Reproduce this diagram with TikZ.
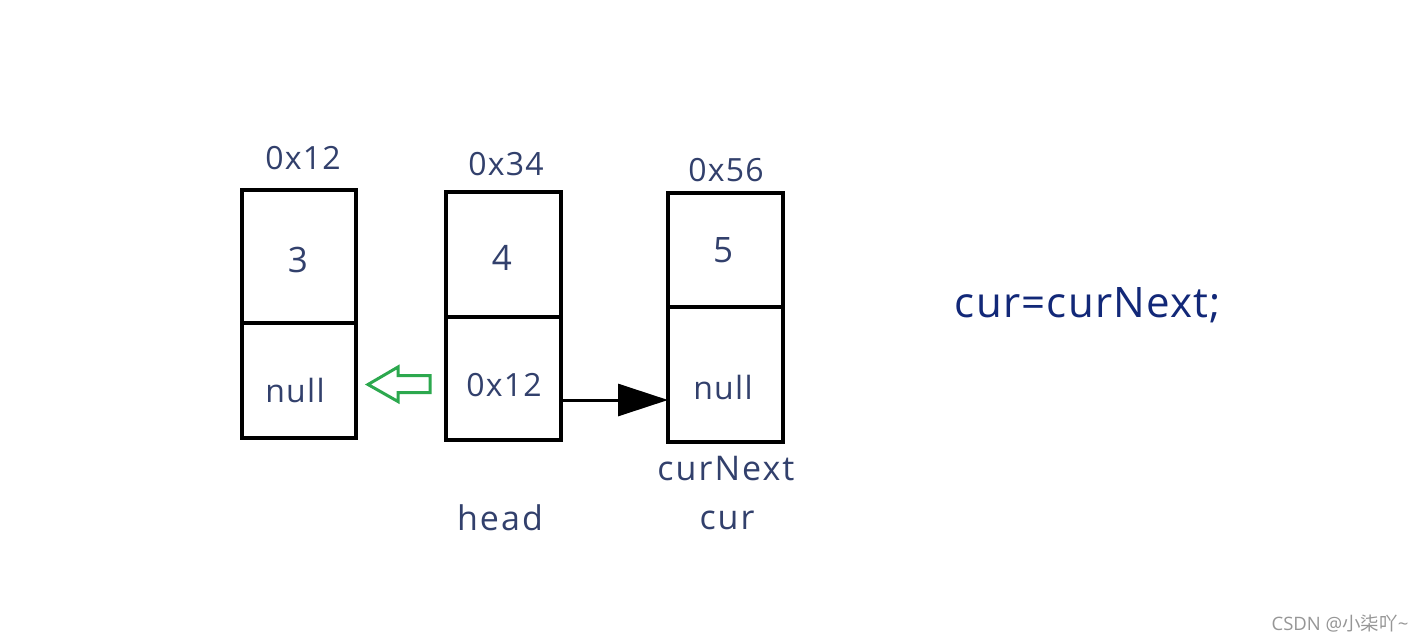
\documentclass[tikz,border=0pt]{standalone}
\usepackage{fontspec}
\setmainfont{Open Sans}
\newfontfamily\cjkfont{Noto Sans CJK SC}
\usetikzlibrary{arrows.meta}
\definecolor{ink}{RGB}{50,64,108}
\definecolor{navy}{RGB}{18,40,120}
\definecolor{grn}{RGB}{44,168,78}
\definecolor{wm}{RGB}{150,150,150}
\tikzset{
  cell/.style={draw=black, line width=3.8pt, inner sep=0pt, outer sep=0pt, rectangle, minimum width=#1},
  lbl/.style={text=ink, font=\fontsize{32}{36}\selectfont\addfontfeature{LetterSpace=4}, inner sep=0pt},
  wide/.style={text=ink, font=\fontsize{34}{38}\selectfont\addfontfeature{LetterSpace=6}, inner sep=0pt},
  big/.style={text=ink, font=\fontsize{35}{38}\selectfont, inner sep=0pt},
}
\begin{document}
\begin{tikzpicture}[x=1pt,y=-1pt]
\fill[white] (0,0) rectangle (1425,643);
\useasboundingbox (0,0) rectangle (1425,643);
% box 1
\node[cell=114pt, minimum height=133pt] (b1top) at (299,256.5) {};
\node[cell=114pt, minimum height=115pt] (b1bot) at (299,380.5) {};
% box 2
\node[cell=115pt, minimum height=125pt] (b2top) at (503.5,254.5) {};
\node[cell=115pt, minimum height=123pt] (b2bot) at (503.5,378.5) {};
% box 3
\node[cell=115pt, minimum height=114pt] (b3top) at (725.5,250) {};
\node[cell=115pt, minimum height=135pt] (b3bot) at (725.5,374.5) {};
% labels above
\node[lbl] (a1) at (303,158) {0x12};
\node[lbl] (a2) at (506,164) {0x34};
\node[lbl] (a3) at (726,170) {0x56};
% values
\node[big] (v1) at (298,260) {3};
\node[big] (v2) at (502,258) {4};
\node[big] (v3) at (723,250) {5};
% next fields
\node[lbl] (n1) at (295,390) {null};
\node[lbl] (n2) at (504,385) {0x12};
\node[lbl] (n3) at (723,387) {null};
% pointer names
\node[wide] (hd) at (500,518) {head};
\node[wide] (cn) at (726,469) {curNext};
\node[wide] (cu) at (727,520) {cur};
% statement
\node[text=navy, font=\fontsize{42}{46}\selectfont\addfontfeature{LetterSpace=3}, inner sep=0pt] (st) at (1088,305) {cur=curNext;};
% black arrow
\draw[line width=3pt, -{Triangle[length=50pt,width=32pt]}] ([yshift=-21.5pt]b2bot.east) -- ([yshift=-25.5pt]b3bot.west);
% green hollow arrow
\coordinate (gt) at (368,384.5);
\draw[grn, line width=3pt, line join=miter] (gt) -- ++(30,-17.5) -- ++(0,8.5) -- ++(32,0) -- ++(0,17) -- ++(-32,0) -- ++(0,9) -- cycle;
% watermark
\node[text=wm, font=\fontsize{18.5}{20}\selectfont, inner sep=0pt] (wmk) at (1340,624) {CSDN @{\cjkfont 小柒吖}\char`\~};
\end{tikzpicture}
\end{document}
